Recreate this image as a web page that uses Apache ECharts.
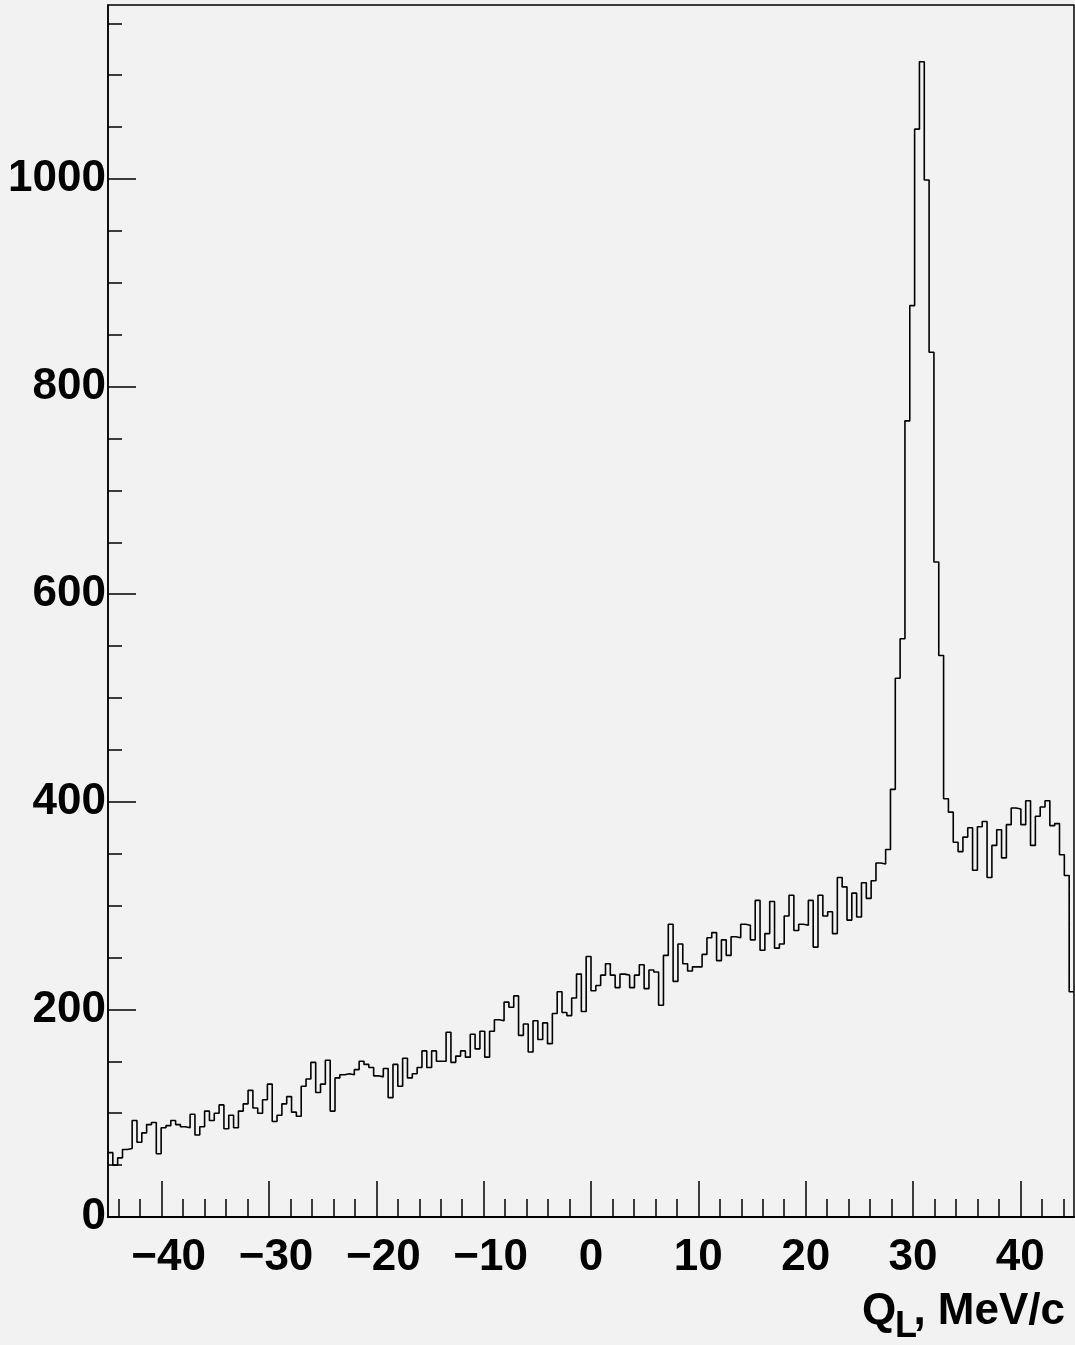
<!DOCTYPE html>
<html>
<head>
<meta charset="utf-8">
<script src="https://cdn.jsdelivr.net/npm/echarts@6/dist/echarts.min.js"></script>
<style>
html,body{margin:0;padding:0;background:#f2f2f2;}
#chart{width:1075px;height:1345px;}
</style>
</head>
<body>
<div id="chart"></div>
<script>
// Histogram: 200 bins of 0.45 MeV/c from -45 to 45
const binLow = -45;
const binWidth = 0.45;
const counts = [
  62, 50, 57, 65, 66, 93, 72, 81, 89, 91,
  61, 86, 88, 93, 89, 87, 86, 99, 79, 87,
  102, 93, 100, 108, 85, 98, 86, 102, 109, 122,
  105, 100, 113, 128, 92, 98, 109, 116, 101, 97,
  126, 133, 149, 120, 128, 151, 102, 134, 137, 138,
  137, 142, 150, 147, 144, 136, 135, 143, 115, 147,
  126, 153, 134, 138, 144, 160, 144, 160, 150, 150,
  178, 149, 155, 160, 154, 176, 162, 179, 154, 179,
  190, 189, 207, 202, 213, 175, 186, 159, 189, 171,
  187, 167, 196, 217, 197, 194, 211, 234, 198, 251,
  218, 223, 233, 244, 233, 221, 234, 233, 221, 233,
  243, 220, 238, 236, 204, 252, 282, 227, 263, 244,
  237, 241, 241, 253, 269, 274, 247, 267, 252, 270,
  269, 282, 281, 267, 305, 257, 273, 304, 259, 263,
  290, 310, 276, 282, 281, 305, 260, 310, 290, 294,
  273, 327, 318, 286, 312, 289, 322, 307, 324, 341,
  340, 354, 412, 519, 557, 767, 878, 1048, 1113, 999,
  833, 631, 541, 403, 390, 361, 352, 366, 375, 334,
  376, 381, 327, 358, 373, 346, 378, 394, 393, 378,
  401, 358, 386, 395, 401, 377, 379, 349, 329, 217
];
const xMajorTicks = [-40, -30, -20, -10, 0, 10, 20, 30, 40];
const xMinorTicks = [-44, -42, -38, -36, -34, -32, -28, -26, -24, -22, -18, -16, -14, -12,
  -8, -6, -4, -2, 2, 4, 6, 8, 12, 14, 16, 18, 22, 24, 26, 28, 32, 34, 36, 38, 42, 44];
const yMajorTicks = [0, 200, 400, 600, 800, 1000];
const yMinorTicks = [50, 100, 150, 250, 300, 350, 450, 500, 550, 650, 700, 750, 850, 900, 950, 1050, 1100, 1150];
const xRange = [-45, 45];
const yRange = [0, 1167.6];

const stepData = counts.map((c, i) => [binLow + i * binWidth, c]);
stepData.push([binLow + counts.length * binWidth, counts[counts.length - 1]]);

const FONT = '"Liberation Sans", Arial, Helvetica, sans-serif';
const chart = echarts.init(document.getElementById('chart'), null, {renderer: 'canvas'});
const xFmt = v => (v < 0 ? '{n|\u2212' + Math.abs(v) + '}' : '{p|' + v + '}');
const labStyle = {fontFamily: FONT, fontWeight: 'bold', fontSize: 44, color: '#000'};

chart.setOption({
  backgroundColor: '#f2f2f2',
  animation: false,
  grid: {left: 108, right: 1, top: 5, bottom: 128, containLabel: false, outerBoundsMode: 'none',
    show: true, borderColor: '#000', borderWidth: 1.5, backgroundColor: 'transparent'},
  xAxis: [{
    type: 'value', min: xRange[0], max: xRange[1],
    axisLine: {show: true, onZero: false, lineStyle: {color: '#000', width: 2}},
    axisTick: {show: true, inside: true, length: 36, customValues: xMajorTicks, lineStyle: {color: '#000', width: 1.5}},
    axisLabel: {show: true, margin: 19, customValues: xMajorTicks, formatter: xFmt,
      rich: {n: Object.assign({padding: [0, 0, 0, 14]}, labStyle), p: Object.assign({}, labStyle)},
      fontFamily: FONT, fontWeight: 'bold', fontSize: 44, color: '#000'},
    splitLine: {show: false}
  }, {
    type: 'value', min: xRange[0], max: xRange[1], position: 'bottom',
    axisLine: {show: false, onZero: false},
    axisTick: {show: true, inside: true, length: 18, customValues: xMinorTicks, lineStyle: {color: '#000', width: 1.5}},
    axisLabel: {show: false},
    splitLine: {show: false}
  }],
  yAxis: [{
    type: 'value', min: yRange[0], max: yRange[1],
    axisLine: {show: true, onZero: false, lineStyle: {color: '#000', width: 1.5}},
    axisTick: {show: true, inside: true, length: 28, customValues: yMajorTicks, lineStyle: {color: '#000', width: 1.5}},
    axisLabel: {show: true, margin: 2, customValues: yMajorTicks, formatter: v => String(v),
      padding: [8, 0, 0, 0],
      fontFamily: FONT, fontWeight: 'bold', fontSize: 44, color: '#000'},
    splitLine: {show: false}
  }, {
    type: 'value', min: yRange[0], max: yRange[1], position: 'left',
    axisLine: {show: false, onZero: false},
    axisTick: {show: true, inside: true, length: 14, customValues: yMinorTicks, lineStyle: {color: '#000', width: 1.5}},
    axisLabel: {show: false},
    splitLine: {show: false}
  }],
  series: [{
    type: 'line', step: 'end', data: stepData, xAxisIndex: 0, yAxisIndex: 0,
    showSymbol: false, symbol: 'none', clip: true,
    lineStyle: {color: '#000', width: 1.6}
  }],
  graphic: [
    {type: 'text', x: 862, y: 1312, style: {text: 'Q', fontFamily: FONT, fontWeight: 'bold', fontSize: 44, fill: '#000', align: 'left', verticalAlign: 'middle'}},
    {type: 'text', x: 895, y: 1327, style: {text: 'L', fontFamily: FONT, fontWeight: 'bold', fontSize: 36, fill: '#000', align: 'left', verticalAlign: 'middle'}},
    {type: 'text', x: 1065, y: 1312, style: {text: ', MeV/c', fontFamily: FONT, fontWeight: 'bold', fontSize: 44, fill: '#000', align: 'right', verticalAlign: 'middle'}}
  ]
});
</script>
</body>
</html>
